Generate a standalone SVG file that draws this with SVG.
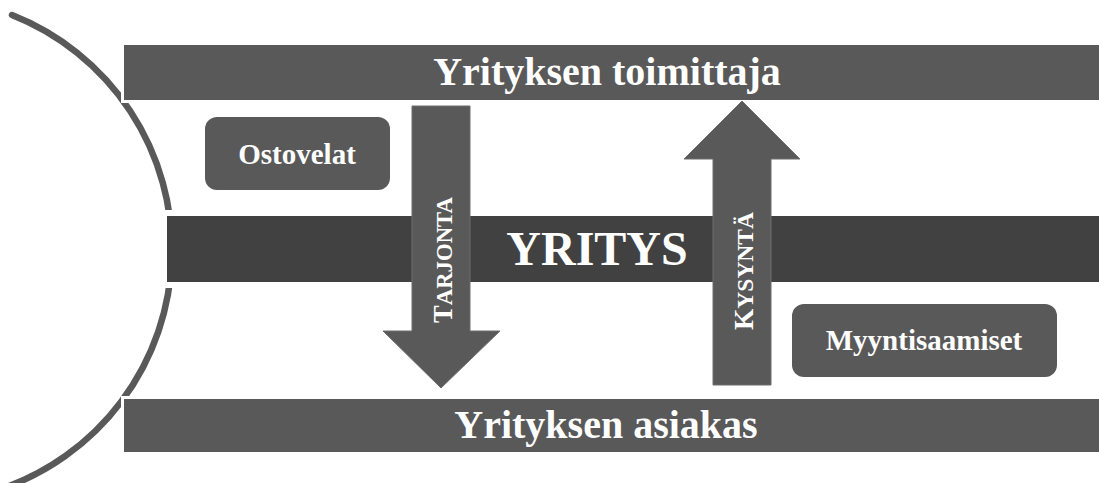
<svg xmlns="http://www.w3.org/2000/svg" width="1099" height="483" viewBox="0 0 1099 483">
<style>
.bar{fill:#595959;stroke:#ffffff;stroke-width:6;paint-order:stroke}
.mid{fill:#414141;stroke:#ffffff;stroke-width:12;paint-order:stroke}
.box{fill:#595959}
.arrow{fill:#595959;stroke:#6e6e6e;stroke-width:1}
.t{font-family:"Liberation Serif","Times New Roman",serif;font-weight:bold;fill:#ffffff;text-anchor:middle}
.big{font-size:40px}
.small{font-size:29px}
.v{font-family:"Liberation Serif","Times New Roman",serif;font-weight:bold;fill:#ffffff;text-anchor:middle;font-size:24px}
.vc{font-size:28px}
</style>
<rect width="1099" height="483" fill="#ffffff"/>
<g id="arc">
<path d="M12,15 A252.6,252.6 0 0 1 -2,490" fill="none" stroke="#595959" stroke-width="6.5" stroke-linecap="round"/>
</g>
<g id="toimittaja">
<rect class="bar" x="124" y="45" width="980" height="55"/>
<text class="t big" x="607" y="85">Yrityksen toimittaja</text>
</g>
<g id="asiakas">
<rect class="bar" x="124" y="399" width="980" height="53"/>
<text class="t big" x="606" y="438">Yrityksen asiakas</text>
</g>
<g id="yritys">
<rect class="mid" x="167" y="216" width="940" height="66"/>
<text class="t" x="597" y="265" style="font-size:48px">YRITYS</text>
</g>
<g id="connectors">
<g id="tarjonta">
<path class="arrow" d="M412,106 H470 V331 H500 L441,388 L383,331 H412 Z"/>
<text class="v" transform="translate(452,260) rotate(-90)" textLength="126" lengthAdjust="spacingAndGlyphs"><tspan class="vc">T</tspan>ARJONTA</text>
</g>
<g id="kysynta">
<path class="arrow" d="M713,385 H771 V159 H800 L742,101 L684,159 H713 Z"/>
<text class="v" transform="translate(753,271) rotate(-90)" textLength="118" lengthAdjust="spacingAndGlyphs"><tspan class="vc">K</tspan>YSYNTÄ</text>
</g>
</g>
<g id="ostovelat">
<rect class="box" x="205" y="117" width="185" height="73" rx="12"/>
<text class="t small" x="297" y="164">Ostovelat</text>
</g>
<g id="myyntisaamiset">
<rect class="box" x="792" y="304" width="265" height="73" rx="12"/>
<text class="t small" x="924" y="350">Myyntisaamiset</text>
</g>
</svg>
